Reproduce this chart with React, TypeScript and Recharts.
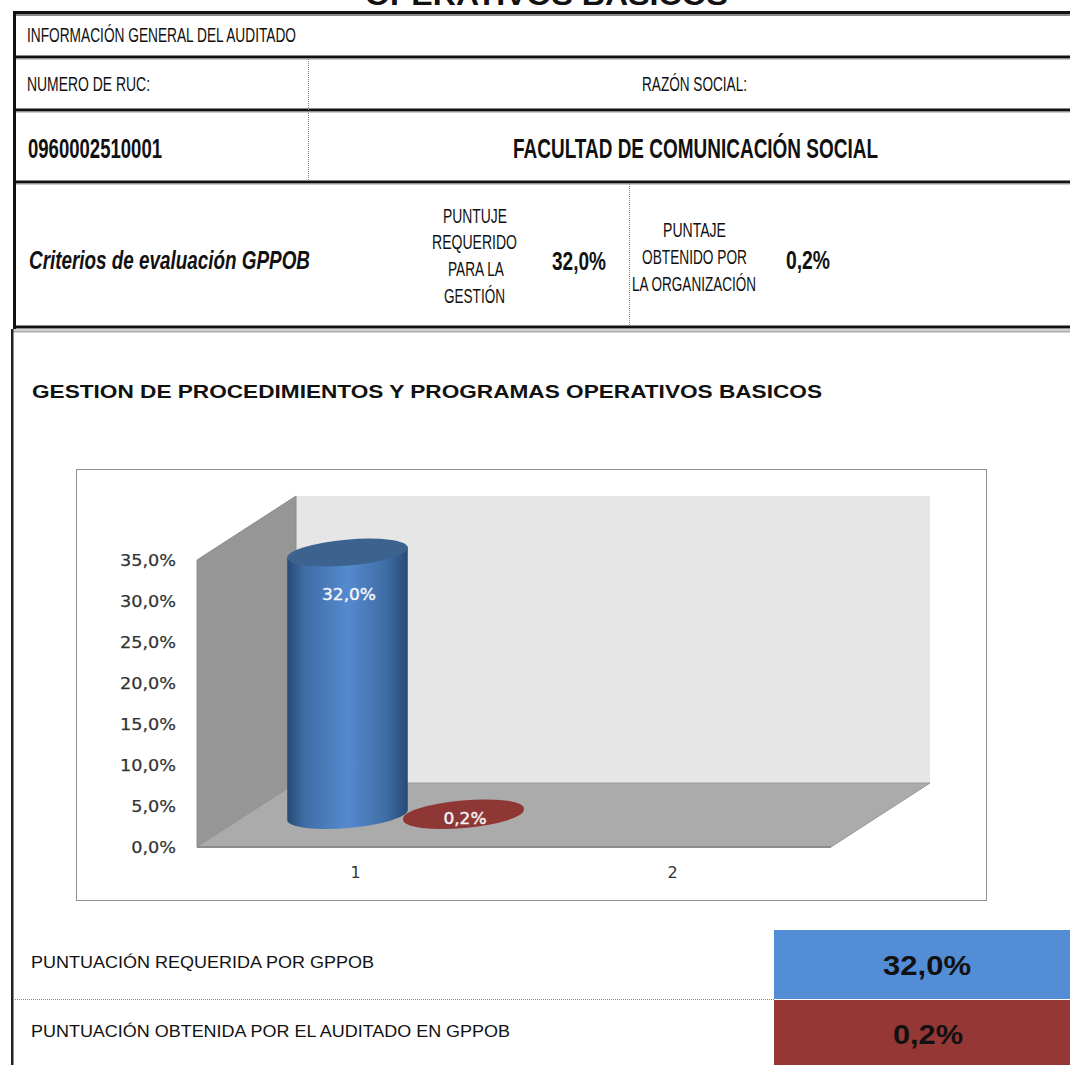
import { Bar, ComposedChart, LabelList, XAxis, YAxis } from 'recharts';

const categories = ['1', '2'];
const requerido = [32.0, null];
const obtenido = [0.2, null];
const yTicks = [0, 5, 10, 15, 20, 25, 30, 35];

const chartData = categories.map((cat, i) => ({
  cat,
  requerido: requerido[i],
  obtenido: obtenido[i],
}));

const CHART_W = 910;
const CHART_H = 432;
// plot area inside the chart frame
const LEFT = 121;
const TOP = 91;
const RIGHT = 755;
const BOTTOM = 378;
// the fake 3d depth of the box
const BOX_DX = 99;
const BOX_DY = -64;
// bars stand in the middle of the depth
const BAR_DX = 50;
const BAR_DY = -32;
const ELLIPSE_RY = 13;
const TILT = -5;

const pct = (v: number) => v.toFixed(1).replace('.', ',') + '%';

function Walls() {
  return (
    <g>
      <polygon
        points={`${LEFT + BOX_DX},${TOP + BOX_DY} ${RIGHT + BOX_DX},${TOP + BOX_DY} ${RIGHT + BOX_DX},${BOTTOM + BOX_DY} ${LEFT + BOX_DX},${BOTTOM + BOX_DY}`}
        fill="#e6e6e6"
      />
      <polygon
        points={`${LEFT},${TOP} ${LEFT + BOX_DX},${TOP + BOX_DY} ${LEFT + BOX_DX},${BOTTOM + BOX_DY} ${LEFT},${BOTTOM}`}
        fill="#969696"
        stroke="#8c8c8c"
      />
      <polygon
        points={`${LEFT},${BOTTOM} ${RIGHT},${BOTTOM} ${RIGHT + BOX_DX},${BOTTOM + BOX_DY} ${LEFT + BOX_DX},${BOTTOM + BOX_DY}`}
        fill="#ababab"
        stroke="#979797"
      />
    </g>
  );
}

function Cylinder(props: any) {
  const { x, y, width, height, value, index, tone } = props;
  if (value == null || !Number.isFinite(y)) return null;
  const cx = x + width / 2 + BAR_DX;
  const rx = width / 2;
  const top = y + BAR_DY;
  const bottom = y + height + BAR_DY;
  const a = (TILT * Math.PI) / 180;
  const ex = rx * Math.cos(a);
  const ey = rx * Math.sin(a);
  const id = `cyl-${tone.name}-${index}`;
  return (
    <g>
      <defs>
        <linearGradient id={id} x1="0" x2="1" y1="0" y2="0">
          <stop offset="0" stopColor={tone.edge} />
          <stop offset="0.14" stopColor={tone.mid} />
          <stop offset="0.5" stopColor={tone.light} />
          <stop offset="0.82" stopColor={tone.mid} />
          <stop offset="1" stopColor={tone.edge} />
        </linearGradient>
      </defs>
      <path
        d={`M${cx - ex},${top - ey} L${cx - ex},${bottom - ey} A${rx},${ELLIPSE_RY} ${TILT} 0 0 ${cx + ex},${bottom + ey} L${cx + ex},${top + ey} Z`}
        fill={`url(#${id})`}
      />
      <ellipse
        cx={cx}
        cy={top}
        rx={rx}
        ry={ELLIPSE_RY}
        fill={tone.top}
        transform={`rotate(${TILT} ${cx} ${top})`}
      />
    </g>
  );
}

function BarValue(props: any) {
  const { x, y, width, height, value } = props;
  if (value == null || !Number.isFinite(y)) return null;
  const text = pct(Number(value));
  const top = y + BAR_DY;
  const bottom = y + height + BAR_DY;
  return (
    <text
      x={x + width / 2 + BAR_DX + 1.5}
      y={Math.min(top + 47, bottom + 9)}
      textAnchor="middle"
      fontFamily="'DejaVu Sans', sans-serif"
      fontSize={16}
      fill="#f4f6fa"
      stroke="#f4f6fa"
      strokeWidth={0.4}
      textLength={text.length * 10.8}
      lengthAdjust="spacingAndGlyphs"
    >
      {text}
    </text>
  );
}

function YTick(props: any) {
  const { x, y, payload } = props;
  const text = pct(Number(payload.value));
  return (
    <text
      x={x}
      y={y + 5.5}
      textAnchor="end"
      fontFamily="'DejaVu Sans', sans-serif"
      fontSize={16}
      fill="#333"
      stroke="#333"
      strokeWidth={0.25}
      textLength={text.length * 11.2}
      lengthAdjust="spacingAndGlyphs"
    >
      {text}
    </text>
  );
}

// text squeezed to the width it has in the scanned sheet
function Fit(props: any) {
  const { x, y, w, size, bold, italic, children } = props;
  return (
    <text
      x={x}
      y={y}
      fontFamily="'Liberation Sans', Arial, sans-serif"
      fontSize={size}
      fontWeight={bold ? 700 : 400}
      fontStyle={italic ? 'italic' : 'normal'}
      fill="#111"
      textLength={w}
      lengthAdjust="spacingAndGlyphs"
    >
      {children}
    </text>
  );
}

function Rule({ y }: { y: number }) {
  return (
    <g>
      <rect x={13} y={y} width={1057} height={3} fill="#111" />
      <rect x={13} y={y + 3} width={1057} height={1} fill="#999" />
    </g>
  );
}

function Sheet() {
  return (
    <svg width={1070} height={1065} style={{ position: 'absolute', left: 0, top: 0 }}>
      <Fit x={365} y={4.5} w={363} size={30} bold>OPERATIVOS BASICOS</Fit>

      {/* header table rules */}
      <rect x={13} y={11} width={1057} height={3} fill="#111" />
      <rect x={13} y={14} width={1057} height={2} fill="#888" />
      <Rule y={55.5} />
      <Rule y={108.5} />
      <Rule y={180.5} />
      <Rule y={325.5} />
      <rect x={11} y={330.5} width={1059} height={2} fill="#aaa" />
      <rect x={13} y={11} width={3} height={318} fill="#111" />
      <rect x={11} y={329} width={2.5} height={736} fill="#222" />
      <line x1={308.5} y1={59} x2={308.5} y2={181} stroke="#888" strokeDasharray="1 1" />
      <line x1={629.5} y1={184} x2={629.5} y2={326} stroke="#888" strokeDasharray="1 1" />

      <Fit x={27} y={42} w={269} size={20}>INFORMACIÓN GENERAL DEL AUDITADO</Fit>
      <Fit x={27} y={91} w={123} size={20}>NUMERO DE RUC:</Fit>
      <Fit x={642} y={91} w={105} size={20}>RAZÓN SOCIAL:</Fit>
      <Fit x={28} y={158} w={134} size={27} bold>0960002510001</Fit>
      <Fit x={513} y={158} w={365} size={27} bold>FACULTAD DE COMUNICACIÓN SOCIAL</Fit>
      <Fit x={29} y={269} w={281} size={25} bold italic>Criterios de evaluación GPPOB</Fit>

      <Fit x={443} y={223} w={64} size={20}>PUNTUJE</Fit>
      <Fit x={432} y={249} w={85} size={20}>REQUERIDO</Fit>
      <Fit x={448} y={276} w={56} size={20}>PARA LA</Fit>
      <Fit x={444} y={303} w={61} size={20}>GESTIÓN</Fit>
      <Fit x={552} y={270} w={54} size={25} bold>32,0%</Fit>

      <Fit x={663} y={237} w={63} size={20}>PUNTAJE</Fit>
      <Fit x={642} y={264} w={105} size={20}>OBTENIDO POR</Fit>
      <Fit x={632} y={291} w={124} size={20}>LA ORGANIZACIÓN</Fit>
      <Fit x={786} y={269} w={44} size={25} bold>0,2%</Fit>

      <Fit x={32} y={397.5} w={790} size={19} bold>GESTION DE PROCEDIMIENTOS Y PROGRAMAS OPERATIVOS BASICOS</Fit>

      <rect x={76.5} y={469.5} width={910} height={431} fill="#fff" stroke="#8f8f8f" />

      {/* summary cells under the chart */}
      <rect x={774} y={930} width={296} height={69} fill="#538dd5" />
      <rect x={774} y={1000} width={296} height={65} fill="#953735" />
      <line x1={13} y1={999.5} x2={774} y2={999.5} stroke="#888" strokeDasharray="1 1" />
      <Fit x={31} y={968} w={343} size={17}>PUNTUACIÓN REQUERIDA POR GPPOB</Fit>
      <Fit x={31} y={1037} w={479} size={17}>PUNTUACIÓN OBTENIDA POR EL AUDITADO EN GPPOB</Fit>
      <Fit x={883} y={975} w={88} size={28} bold>32,0%</Fit>
      <Fit x={893} y={1044} w={70} size={28} bold>0,2%</Fit>
    </svg>
  );
}

const blueTone = { name: 'blue', edge: '#274a75', mid: '#3f6da4', light: '#558ad0', top: '#3c628f' };
const redTone = { name: 'red', edge: '#8f3735', mid: '#8f3735', light: '#8f3735', top: '#8f3735' };

export default function App() {
  return (
    <div style={{ position: 'absolute', left: 0, top: 0, width: 1070, height: 1065, overflow: 'hidden', background: '#fff' }}>
      <Sheet />
      <div style={{ position: 'absolute', left: 76, top: 469 }}>
        <ComposedChart
          width={CHART_W}
          height={CHART_H}
          data={chartData}
          barSize={121}
          barGap={-5}
          margin={{ top: TOP, left: LEFT - 100, right: CHART_W - RIGHT, bottom: CHART_H - BOTTOM - 30 }}
        >
          <Walls />
          <XAxis
            dataKey="cat"
            height={30}
            axisLine={{ stroke: '#8c8c8c', strokeWidth: 2 }}
            tickLine={false}
            tickMargin={14}
            tick={{ fontFamily: "'DejaVu Sans', sans-serif", fontSize: 16, fill: '#333' }}
          />
          <YAxis
            width={100}
            domain={[0, 35]}
            ticks={yTicks}
            interval={0}
            axisLine={false}
            tickLine={false}
            tickSize={0}
            tickMargin={21}
            tick={<YTick />}
          />
          <Bar
            dataKey="requerido"
            isAnimationActive={false}
            fill="#538dd5"
            shape={(p: any) => <Cylinder {...p} tone={blueTone} />}
          >
            <LabelList dataKey="requerido" content={<BarValue />} />
          </Bar>
          <Bar
            dataKey="obtenido"
            isAnimationActive={false}
            fill="#953735"
            shape={(p: any) => <Cylinder {...p} tone={redTone} />}
          >
            <LabelList dataKey="obtenido" content={<BarValue />} />
          </Bar>
        </ComposedChart>
      </div>
    </div>
  );
}
